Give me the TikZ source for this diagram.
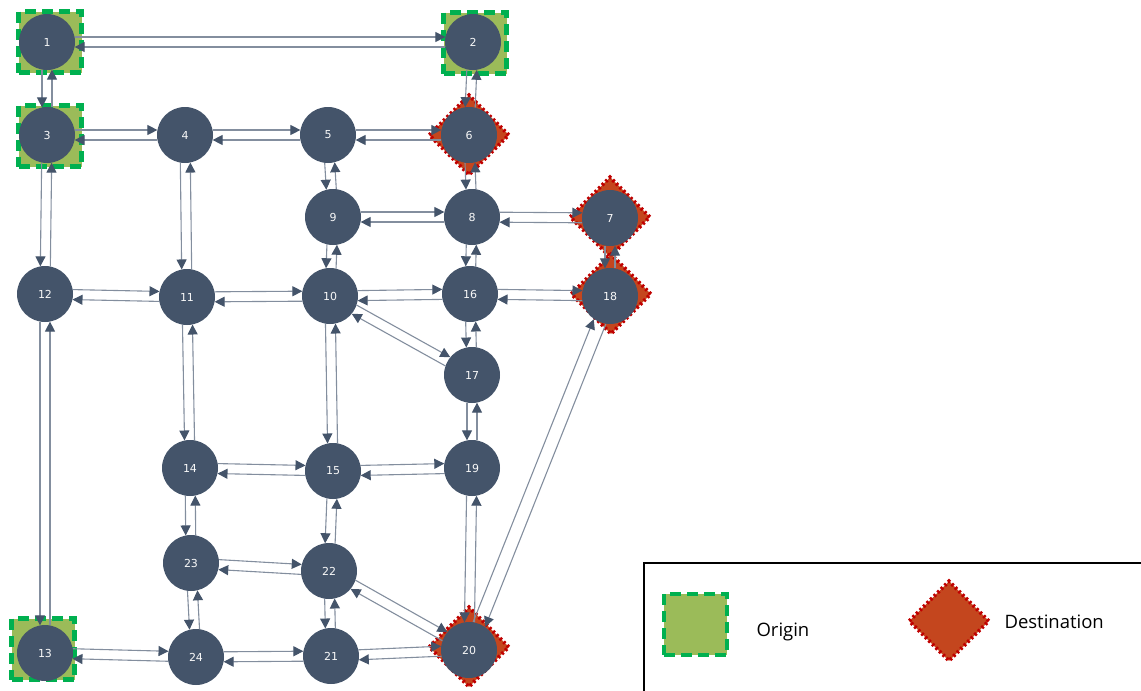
\documentclass[tikz,border=0pt]{standalone}
\usepackage{fontspec}
\usetikzlibrary{calc,arrows.meta,shapes.geometric}
\newfontfamily\numfont{DejaVu Sans}
\newfontfamily\legfont{Open Sans}

\definecolor{nodec}{HTML}{44546A}
\definecolor{linec}{HTML}{838E9E}
\definecolor{origfill}{HTML}{9BBB59}
\definecolor{origline}{HTML}{00B050}
\definecolor{destfill}{HTML}{C4461E}
\definecolor{destline}{HTML}{C00000}

\pgfdeclarelayer{back}
\pgfdeclarelayer{edges}
\pgfsetlayers{back,edges,main}

\tikzset{
  stop/.style={circle, fill=nodec, minimum size=56pt, inner sep=0pt,
    font=\numfont\fontsize{11}{12}\selectfont, text=white!95!gray},
  origin/.style={rectangle, fill=origfill, draw=origline, line width=4.5pt,
    dash pattern=on 11pt off 6pt, minimum width=63pt, minimum height=61pt, inner sep=0pt},
  dest/.style={diamond, fill=destfill, draw=destline, line width=3.6pt,
    dash pattern=on 2.4pt off 2.6pt, minimum width=81pt, minimum height=81pt, inner sep=0pt},
  edge/.style={draw=linec, line width=1.1pt, shorten >=27.6pt, shorten <=27.6pt,
    -{Triangle[length=10pt,width=10pt,color=nodec]}},
  legtext/.style={font=\legfont\fontsize{18.5}{22}\selectfont, text=black}
}

% a pair of opposite one-way links; the a->b link runs on the left of its travel
\newcommand\pairL[3][5pt]{%
  \draw[edge] ($(#2)!#1!90:(#3)$) -- ($(#3)!#1!-90:(#2)$);
  \draw[edge] ($(#3)!#1!90:(#2)$) -- ($(#2)!#1!-90:(#3)$);}
% the same with the a->b link on the right of its travel
\newcommand\pairR[3][5pt]{%
  \draw[edge] ($(#2)!#1!-90:(#3)$) -- ($(#3)!#1!90:(#2)$);
  \draw[edge] ($(#3)!#1!-90:(#2)$) -- ($(#2)!#1!90:(#3)$);}

\begin{document}
\begin{tikzpicture}[x=1pt,y=-1pt]
\useasboundingbox (0,0) rectangle (1141,691);

% stops
\node[stop] (n1)  at (47,42)   {1};
\node[stop] (n2)  at (473,42)  {2};
\node[stop] (n3)  at (47,135)  {3};
\node[stop] (n4)  at (185,135) {4};
\node[stop] (n5)  at (328,135) {5};
\node[stop] (n6)  at (469,135) {6};
\node[stop] (n7)  at (610,218) {7};
\node[stop] (n8)  at (472,217) {8};
\node[stop] (n9)  at (333,217) {9};
\node[stop] (n10) at (330,296) {10};
\node[stop] (n11) at (187,297) {11};
\node[stop] (n12) at (45,294)  {12};
\node[stop] (n13) at (45,653)  {13};
\node[stop] (n14) at (190,468) {14};
\node[stop] (n15) at (333,471) {15};
\node[stop] (n16) at (470,294) {16};
\node[stop] (n17) at (472,375) {17};
\node[stop] (n18) at (610,296) {18};
\node[stop] (n19) at (472,468) {19};
\node[stop] (n20) at (469,650) {20};
\node[stop] (n21) at (331,656) {21};
\node[stop] (n22) at (329,571) {22};
\node[stop] (n23) at (191,563) {23};
\node[stop] (n24) at (196,657) {24};

% origin and destination markers behind the stops
\begin{pgfonlayer}{back}
\node[origin] (o1)  at (50,42)   {};
\node[origin] (o2)  at (475,43)  {};
\node[origin] (o3)  at (50,136)  {};
\node[origin] (o13) at (43,649)  {};
\node[dest] (d6)  at (469,135) {};
\node[dest] (d7)  at (610,217) {};
\node[dest] (d18) at (611,294) {};
\node[dest] (d20) at (469,647) {};
\end{pgfonlayer}

% links
\begin{pgfonlayer}{edges}
% horizontal
\pairL{n1}{n2}
\pairL{n3}{n4}
\pairL{n4}{n5}
\pairL{n5}{n6}
\pairL{n9}{n8}
\pairL{n8}{n7}
\pairL{n12}{n11}
\pairL{n11}{n10}
\pairL{n10}{n16}
\pairL{n16}{n18}
\pairL{n14}{n15}
\pairL{n15}{n19}
\pairL{n23}{n22}
\pairL{n13}{n24}
\pairL{n24}{n21}
\pairL{n21}{n20}
% vertical
\pairR{n1}{n3}
\pairR{n2}{n6}
\pairR{n3}{n12}
\pairR{n4}{n11}
\pairR{n5}{n9}
\pairR{n6}{n8}
\pairR{n9}{n10}
\pairR{n8}{n16}
\pairR{n7}{n18}
\pairR{n12}{n13}
\pairR{n11}{n14}
\pairR{n10}{n15}
\pairR{n16}{n17}
\pairR{n17}{n19}
\pairR{n14}{n23}
\pairR{n15}{n22}
\pairR{n19}{n20}
\pairR{n23}{n24}
\pairR{n22}{n21}
% diagonal
\pairL{n10}{n17}
\pairL{n22}{n20}
\pairL[6.5pt]{n18}{n20}
\end{pgfonlayer}

% legend
\coordinate (lgbl) at (644,691);
\coordinate (lgtr) at (1141,563);
\draw[black, line width=1.2pt] (lgbl) |- (lgtr);
\node[origin] (lo) at (695.5,624.5) {};
\node[legtext, anchor=base west] (lot) at (753,636) {Origin};
\node[dest] (ld) at (949,621) {};
\node[legtext, anchor=base west] (ldt) at (1001,628) {Destination};
\end{tikzpicture}
\end{document}
